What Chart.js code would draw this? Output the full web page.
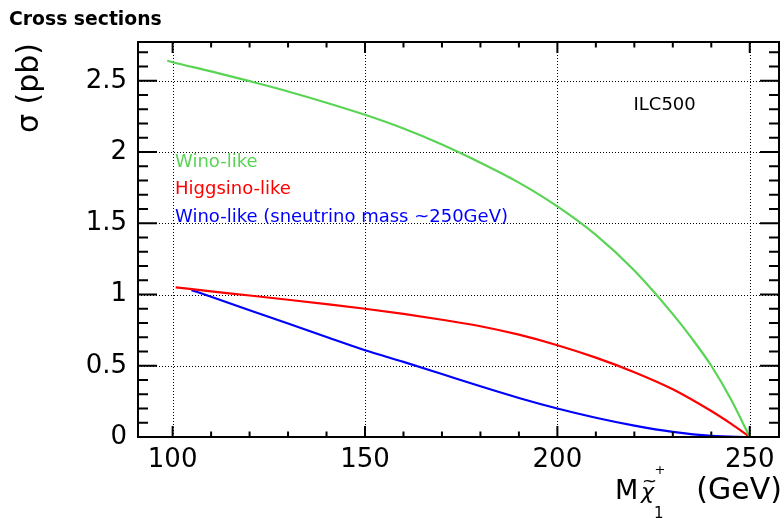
<!DOCTYPE html>
<html>
<head>
<meta charset="utf-8">
<script src="https://cdn.jsdelivr.net/npm/chart.js@4/dist/chart.umd.min.js"></script>
<style>
  html, body { margin: 0; padding: 0; background: #fff; }
  #wrap { width: 784px; height: 518px; }
</style>
</head>
<body>
<div id="wrap"><canvas id="cv" width="784" height="518"></canvas></div>
<script>
// Chargino pair cross sections at ILC500 versus chargino mass (GeV)
const massWino = [98.6, 100, 110, 120, 130, 140, 150, 160, 170, 180, 190, 200, 210, 220, 230, 235, 240, 245, 250];
const xsecWino = [2.64, 2.63, 2.566, 2.497, 2.425, 2.346, 2.261, 2.165, 2.053, 1.925, 1.785, 1.618, 1.418, 1.168, 0.862, 0.69, 0.5, 0.27, 0];

const massHiggsino = [100.8, 110, 120, 130, 140, 150, 160, 170, 180, 190, 200, 210, 220, 230, 240, 245, 250];
const xsecHiggsino = [1.05, 1.022, 0.993, 0.963, 0.932, 0.9, 0.864, 0.823, 0.777, 0.718, 0.644, 0.557, 0.455, 0.335, 0.182, 0.095, 0];

const massWinoSneu = [104.9, 110, 120, 130, 140, 150, 160, 170, 180, 190, 200, 210, 220, 230, 240, 250];
const xsecWinoSneu = [1.031, 0.984, 0.89, 0.796, 0.702, 0.609, 0.527, 0.442, 0.356, 0.274, 0.2, 0.135, 0.08, 0.036, 0.008, 0];

const xTickValues = [100, 150, 200, 250];
const xTickLabels = ['100', '150', '200', '250'];
const yTickValues = [0, 0.5, 1, 1.5, 2, 2.5];
const yTickLabels = ['0', '0.5', '1', '1.5', '2', '2.5'];

const seriesNames = ['Wino-like', 'Higgsino-like', 'Wino-like (sneutrino mass ~250GeV)'];
const seriesColors = ['#59d454', '#ff0000', '#0000ff'];

const FONT = 'DejaVu Sans';

function points(xs, ys) { return xs.map((x, i) => ({ x: x, y: ys[i] })); }

// Dotted grid at the labelled ticks, drawn under the curves
const dottedGrid = {
  id: 'dottedGrid',
  beforeDatasetsDraw(chart) {
    const { ctx, chartArea: a, scales: { x, y } } = chart;
    ctx.save();
    ctx.strokeStyle = '#000';
    ctx.lineWidth = 1;
    ctx.setLineDash([1, 2]);
    ctx.beginPath();
    x.ticks.forEach(t => {
      const px = Math.round(x.getPixelForValue(t.value)) + 0.5;
      ctx.moveTo(px, a.bottom); ctx.lineTo(px, a.top);
    });
    y.ticks.forEach(t => {
      const py = Math.round(y.getPixelForValue(t.value)) + 0.5;
      ctx.moveTo(a.left, py); ctx.lineTo(a.right, py);
    });
    ctx.stroke();
    ctx.restore();
  }
};

// Frame box with inward major/minor tick marks on all four sides
const frameTicks = {
  id: 'frameTicks',
  afterDatasetsDraw(chart) {
    const { ctx, chartArea: a, scales: { x, y } } = chart;
    ctx.save();
    ctx.strokeStyle = '#000';
    ctx.lineWidth = 2;
    ctx.beginPath();
    // x axis: major every 50, minor every 10
    for (let v = 90; v <= 260; v += 10) {
      if (v < x.min || v > x.max) continue;
      const px = x.getPixelForValue(v);
      const len = (v % 50 === 0) ? 11 : 5.5;
      ctx.moveTo(px, a.bottom); ctx.lineTo(px, a.bottom - len);
      ctx.moveTo(px, a.top); ctx.lineTo(px, a.top + len);
    }
    // y axis: major every 0.5, minor every 0.1
    for (let k = 0; k <= 27; k++) {
      const v = k / 10;
      if (v > y.max) continue;
      const py = y.getPixelForValue(v);
      const len = (k % 5 === 0) ? 19 : 10;
      ctx.moveTo(a.left, py); ctx.lineTo(a.left + len, py);
      ctx.moveTo(a.right, py); ctx.lineTo(a.right - len, py);
    }
    ctx.stroke();
    ctx.strokeRect(a.left, a.top, a.right - a.left, a.bottom - a.top);
    ctx.restore();
  }
};

// Title, axis titles, energy label and coloured series labels
const annotations = {
  id: 'annotations',
  afterDraw(chart) {
    const { ctx, chartArea: a } = chart;
    ctx.save();
    ctx.textBaseline = 'alphabetic';

    ctx.fillStyle = '#000';
    ctx.textAlign = 'left';
    ctx.font = 'bold 18.8px "' + FONT + '"';
    ctx.fillText('Cross sections', 9, 25);

    ctx.font = '18px "' + FONT + '"';
    ctx.fillText('ILC500', 633.5, 110);

    // series labels
    const baselines = [166.7, 194.3, 221.8];
    seriesNames.forEach((name, i) => {
      ctx.fillStyle = seriesColors[i];
      ctx.fillText(name, 175, baselines[i]);
    });

    // y-axis title, rotated, ending at the top of the frame
    ctx.fillStyle = '#000';
    ctx.save();
    ctx.translate(38, a.top + 1);
    ctx.rotate(-Math.PI / 2);
    ctx.textAlign = 'right';
    ctx.font = '30px "' + FONT + '"';
    ctx.fillText('\u03c3 (pb)', 0, 0);
    ctx.restore();

    // x-axis title: M chi~^+_1 (GeV)
    const base = 499.3;
    ctx.textAlign = 'left';
    ctx.font = '27px "' + FONT + '"';
    ctx.fillText('M', 615, base);
    ctx.font = 'italic 22px "' + FONT + '"';
    ctx.fillText('\u03c7', 641, base);
    ctx.font = '18px "' + FONT + '"';
    ctx.fillText('~', 642, base - 12);
    ctx.font = '13px "' + FONT + '"';
    ctx.fillText('+', 654.5, 474);
    ctx.font = '15px "' + FONT + '"';
    ctx.fillText('1', 654, 518);
    ctx.font = '30px "' + FONT + '"';
    ctx.textAlign = 'right';
    ctx.fillText('(GeV)', 782, base);
    ctx.restore();
  }
};

new Chart(document.getElementById('cv'), {
  type: 'line',
  data: {
    datasets: [
      { label: seriesNames[0], data: points(massWino, xsecWino), borderColor: seriesColors[0] },
      { label: seriesNames[1], data: points(massHiggsino, xsecHiggsino), borderColor: seriesColors[1] },
      { label: seriesNames[2], data: points(massWinoSneu, xsecWinoSneu), borderColor: seriesColors[2] }
    ]
  },
  options: {
    responsive: false,
    animation: false,
    devicePixelRatio: 1,
    layout: { padding: { top: 42, right: 5, left: 0, bottom: 0 } },
    elements: {
      point: { radius: 0, hoverRadius: 0 },
      line: { borderWidth: 2.2, fill: false, cubicInterpolationMode: 'monotone' }
    },
    plugins: {
      legend: { display: false },
      title: { display: false },
      tooltip: { enabled: false }
    },
    events: [],
    scales: {
      x: {
        type: 'linear',
        min: 91,
        max: 257.6,
        grid: { display: false, drawTicks: false },
        border: { display: false },
        afterBuildTicks(scale) { scale.ticks = xTickValues.map(v => ({ value: v })); },
        afterFit(scale) { scale.height = 81; },
        ticks: {
          padding: 8,
          color: '#000',
          font: { family: FONT, size: 26 },
          maxRotation: 0,
          callback: (v) => xTickLabels[xTickValues.indexOf(v)]
        }
      },
      y: {
        type: 'linear',
        min: 0,
        max: 2.772,
        grid: { display: false, drawTicks: false },
        border: { display: false },
        afterBuildTicks(scale) { scale.ticks = yTickValues.map(v => ({ value: v })); },
        afterFit(scale) { scale.width = 138; },
        ticks: {
          padding: 11,
          color: '#000',
          font: { family: FONT, size: 26 },
          callback: (v) => yTickLabels[yTickValues.indexOf(v)]
        }
      }
    }
  },
  plugins: [dottedGrid, frameTicks, annotations]
});
</script>
</body>
</html>
